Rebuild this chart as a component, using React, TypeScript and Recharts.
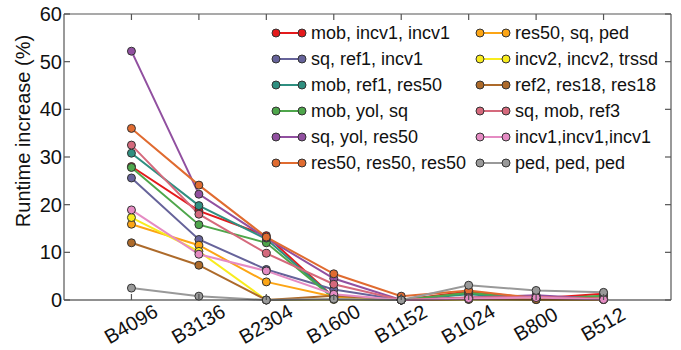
import { LineChart, Line, XAxis, YAxis } from 'recharts';

const BLOCKS = ['B4096', 'B3136', 'B2304', 'B1600', 'B1152', 'B1024', 'B800', 'B512'];
const Y_TICKS = [0, 10, 20, 30, 40, 50, 60];

const MOB_INCV1_INCV1 = [28.0, 18.7, 13.5, 0.6, 0.0, 1.8, 0.3, 1.3];
const SQ_REF1_INCV1 = [25.6, 12.7, 6.4, 2.2, 0.0, 0.3, 0.2, 0.2];
const MOB_REF1_RES50 = [30.8, 19.8, 12.8, 0.5, 0.0, 1.2, 0.2, 0.3];
const MOB_YOL_SQ = [27.8, 15.8, 12.0, 0.3, 0.0, 1.5, 0.2, 0.9];
const SQ_YOL_RES50 = [52.2, 22.2, 13.0, 4.5, 0.0, 0.5, 1.0, 0.2];
const RES50_X3 = [36.0, 24.1, 13.2, 5.5, 0.8, 2.0, 0.4, 0.3];
const RES50_SQ_PED = [15.9, 11.5, 3.8, 0.7, 0.0, 0.2, 0.1, 0.1];
const INCV2_INCV2_TRSSD = [17.3, 10.2, 0.0, 0.1, 0.0, 0.1, 0.1, 0.1];
const REF2_RES18_RES18 = [12.0, 7.3, 0.0, 0.9, 0.0, 0.2, 0.1, 0.1];
const SQ_MOB_REF3 = [32.5, 18.0, 9.8, 3.3, 0.0, 0.5, 0.7, 0.2];
const INCV1_X3 = [18.9, 9.6, 6.1, 1.2, 0.0, 0.3, 0.5, 0.1];
const PED_X3 = [2.5, 0.8, 0.0, 0.2, 0.0, 3.1, 2.0, 1.6];

const SERIES = [
  { name: 'mob, incv1, incv1', values: MOB_INCV1_INCV1, color: '#e41a1c' },
  { name: 'sq, ref1, incv1', values: SQ_REF1_INCV1, color: '#66639a' },
  { name: 'mob, ref1, res50', values: MOB_REF1_RES50, color: '#2f8f80' },
  { name: 'mob, yol, sq', values: MOB_YOL_SQ, color: '#4ea64b' },
  { name: 'sq, yol, res50', values: SQ_YOL_RES50, color: '#9150a0' },
  { name: 'res50, res50, res50', values: RES50_X3, color: '#e06b30' },
  { name: 'res50, sq, ped', values: RES50_SQ_PED, color: '#fca515' },
  { name: 'incv2, incv2, trssd', values: INCV2_INCV2_TRSSD, color: '#f8ec1e' },
  { name: 'ref2, res18, res18', values: REF2_RES18_RES18, color: '#ad6a2a' },
  { name: 'sq, mob, ref3', values: SQ_MOB_REF3, color: '#d5697c' },
  { name: 'incv1,incv1,incv1', values: INCV1_X3, color: '#e58bc3' },
  { name: 'ped, ped, ped', values: PED_X3, color: '#999999' },
];

const data = BLOCKS.map((b, i) => {
  const row: any = { x: i + 1, label: b };
  SERIES.forEach((s, k) => { row['s' + k] = s.values[i]; });
  return row;
});

const AXIS = '#555';
const FONT = '"Liberation Sans", Arial, sans-serif';

function LeftTick({ x, y, payload }: any) {
  return (
    <g>
      <line x1={x + 2} x2={x + 8} y1={y} y2={y} stroke={AXIS} strokeWidth={1.2} />
      <text x={x} y={y} textAnchor="end" dominantBaseline="central" fontSize={20} fill="#111">{payload.value}</text>
    </g>
  );
}

function RightTick({ x, y }: any) {
  return <line x1={x} x2={x - 6} y1={y} y2={y} stroke={AXIS} strokeWidth={1.2} />;
}

function BottomTick({ x, y, payload }: any) {
  const tx = x + 3;
  const ty = y + 30;
  return (
    <g>
      <line x1={x} x2={x} y1={y} y2={y - 6} stroke={AXIS} strokeWidth={1.2} />
      <text x={tx} y={ty} textAnchor="middle" fontSize={20} fill="#111" transform={`rotate(-30, ${tx}, ${ty})`}>
        {BLOCKS[payload.value - 1]}
      </text>
    </g>
  );
}

function TopTick({ x, y }: any) {
  return <line x1={x} x2={x} y1={y} y2={y + 6} stroke={AXIS} strokeWidth={1.2} />;
}

function LegendBox() {
  const cols = [SERIES.slice(0, 6), SERIES.slice(6)];
  return (
    <div style={{ position: 'absolute', left: 270, top: 20, display: 'flex', fontFamily: FONT, fontSize: 18, color: '#111' }}>
      {cols.map((col, ci) => (
        <div key={ci} style={{ width: ci === 0 ? 204 : 190 }}>
          {col.map(s => (
            <div key={s.name} style={{ display: 'flex', alignItems: 'center', height: 26, whiteSpace: 'nowrap' }}>
              <svg width={38} height={12} style={{ flexShrink: 0 }}>
                <line x1={6} x2={32} y1={6} y2={6} stroke={s.color} strokeWidth={2} />
                <circle cx={6} cy={6} r={4} fill={s.color} stroke="#333" strokeWidth={1} />
                <circle cx={32} cy={6} r={4} fill={s.color} stroke="#333" strokeWidth={1} />
              </svg>
              <span style={{ marginLeft: 3 }}>{s.name}</span>
            </div>
          ))}
        </div>
      ))}
    </div>
  );
}

export default function App() {
  return (
    <div style={{ position: 'absolute', left: 0, top: 0, width: 681, height: 350, background: '#fff', fontFamily: FONT }}>
      <LineChart width={681} height={350} data={data} margin={{ top: 13, right: 9, bottom: 0, left: 0 }}>
        <XAxis
          xAxisId="bottom"
          dataKey="x"
          type="number"
          domain={[0, 9]}
          ticks={[1, 2, 3, 4, 5, 6, 7, 8]}
          height={50}
          tickSize={0}
          tickMargin={0}
          tickLine={false}
          tick={<BottomTick />}
          stroke="#222"
          strokeWidth={1.2}
          interval={0}
        />
        <XAxis
          xAxisId="top"
          orientation="top"
          dataKey="x"
          type="number"
          domain={[0, 9]}
          ticks={[1, 2, 3, 4, 5, 6, 7, 8]}
          height={1}
          tickSize={0}
          tickMargin={0}
          tickLine={false}
          tick={<TopTick />}
          stroke={AXIS}
          strokeWidth={1.2}
          interval={0}
        />
        <YAxis
          yAxisId="left"
          type="number"
          domain={[0, 60]}
          ticks={Y_TICKS}
          width={64}
          tickSize={0}
          tickMargin={2}
          tickLine={false}
          tick={<LeftTick />}
          stroke={AXIS}
          strokeWidth={1.2}
          interval={0}
        />
        <YAxis
          yAxisId="right"
          orientation="right"
          type="number"
          domain={[0, 60]}
          ticks={Y_TICKS}
          width={1}
          tickSize={0}
          tickMargin={0}
          tickLine={false}
          tick={<RightTick />}
          stroke={AXIS}
          strokeWidth={1.2}
          interval={0}
        />
        <Line
          xAxisId="top"
          yAxisId="right"
          dataKey="s0"
          stroke="none"
          dot={false}
          activeDot={false}
          legendType="none"
          isAnimationActive={false}
        />
        {SERIES.map((s, k) => (
          <Line
            key={s.name}
            xAxisId="bottom"
            yAxisId="left"
            dataKey={'s' + k}
            name={s.name}
            stroke={s.color}
            strokeWidth={2}
            dot={{ r: 4, fill: s.color, stroke: '#333', strokeWidth: 1 }}
            activeDot={false}
            isAnimationActive={false}
          />
        ))}
      </LineChart>
      <svg width={50} height={350} style={{ position: 'absolute', left: 0, top: 0 }}>
        <text x={23} y={131} textAnchor="middle" dominantBaseline="central" fontSize={20} fill="#111" transform="rotate(-90, 23, 131)">
          Runtime increase (%)
        </text>
      </svg>
      <LegendBox />
    </div>
  );
}
